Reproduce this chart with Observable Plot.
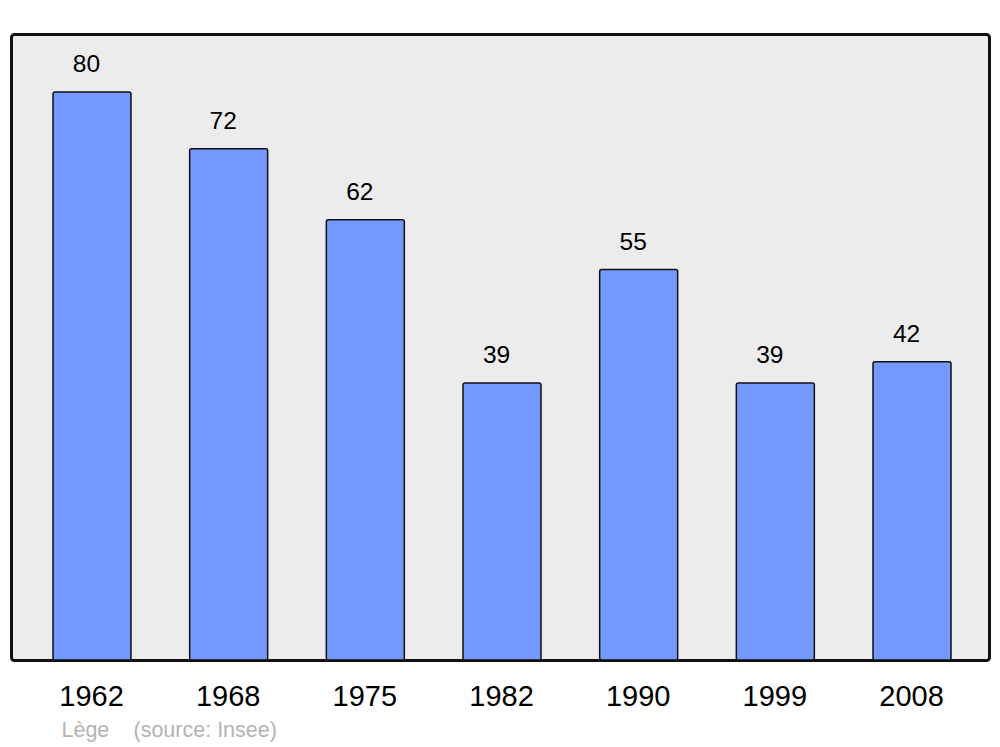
<!DOCTYPE html>
<html>
<head>
<meta charset="utf-8">
<script src="https://cdn.jsdelivr.net/npm/d3@7"></script>
<script src="https://cdn.jsdelivr.net/npm/@observablehq/plot@0.6"></script>
<style>
  html, body { margin: 0; padding: 0; background: #fff; }
  #chart svg { display: block; }
</style>
</head>
<body>
<div id="chart"></div>
<script>
const years = ["1962", "1968", "1975", "1982", "1990", "1999", "2008"];
const population = [80, 72, 62, 39, 55, 39, 42];
const placeName = "Lège";
const sourceText = "(source: Insee)";

const data = years.map((y, i) => ({year: y, value: population[i]}));
const font = "'Liberation Sans', Arial, sans-serif";

const chart = Plot.plot({
  width: 1000,
  height: 747,
  marginTop: 34,
  marginBottom: 87,
  marginLeft: 11,
  marginRight: 11,
  style: {fontFamily: font, background: "#fff"},
  x: {domain: years, range: [53, 951], paddingInner: 0.4293, paddingOuter: 0, round: false, label: null},
  y: {domain: [0, 88.17], axis: null},
  marks: [
    Plot.frame({fill: "#ececec", stroke: "#111", strokeWidth: 3, rx: 3}),
    Plot.barY(data, {x: "year", y: "value", fill: "#7399ff", stroke: "#111", strokeWidth: 1.5, rx: 2}),
    Plot.text(data, {x: "year", y: "value", text: d => String(d.value), dy: -28, dx: -6, fontSize: 24.5, fill: "#000"}),
    Plot.axisX({tickSize: 0, tickPadding: 25, fontSize: 29, dx: -1, color: "#000", label: null}),
    Plot.text([placeName], {frameAnchor: "bottom-left", dx: 50, dy: 76, fontSize: 21.5, fill: "#b4b4b4", textAnchor: "start"}),
    Plot.text([sourceText], {frameAnchor: "bottom-left", dx: 122, dy: 76, fontSize: 21.5, fill: "#b4b4b4", textAnchor: "start"})
  ]
});
document.getElementById("chart").appendChild(chart);
</script>
</body>
</html>
